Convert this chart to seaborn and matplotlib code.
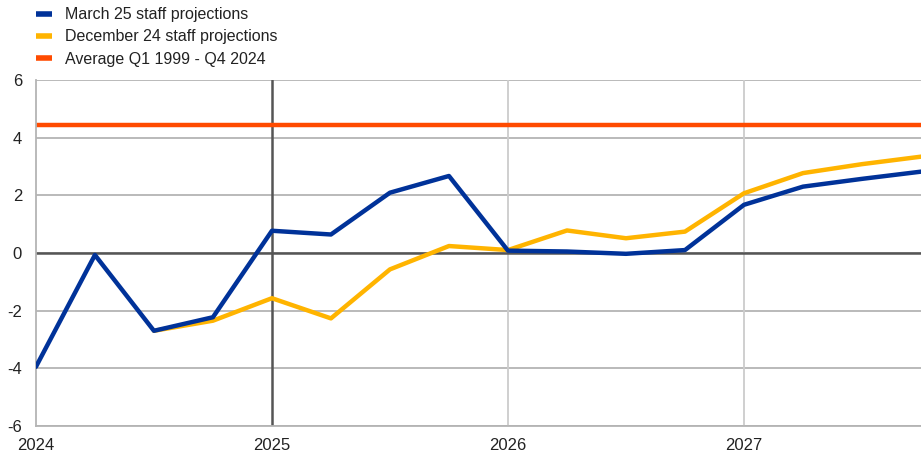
import numpy as np
import pandas as pd
import matplotlib
matplotlib.use('Agg')
import matplotlib.pyplot as plt
import seaborn as sns

# Quarterly data, 2024 Q1 - 2027 Q4
quarters = [2024.0, 2024.25, 2024.5, 2024.75,
            2025.0, 2025.25, 2025.5, 2025.75,
            2026.0, 2026.25, 2026.5, 2026.75,
            2027.0, 2027.25, 2027.5, 2027.75]
march25 = [-3.95, -0.07, -2.7, -2.23, 0.77, 0.64, 2.09, 2.67,
           0.08, 0.05, -0.03, 0.1, 1.67, 2.3, 2.57, 2.82]
december24 = [np.nan, np.nan, -2.7, -2.35, -1.57, -2.27, -0.57, 0.24,
              0.1, 0.78, 0.51, 0.74, 2.07, 2.77, 3.08, 3.34]
average_value = 4.44

series_names = ['March 25 staff projections', 'December 24 staff projections']
avg_label = 'Average Q1 1999 - Q4 2024'
year_ticks = [2024, 2025, 2026, 2027]
y_ticks = [-6, -4, -2, 0, 2, 4, 6]

df = pd.DataFrame({
    'quarter': quarters * 2,
    'value': march25 + december24,
    'series': [series_names[0]] * len(quarters) + [series_names[1]] * len(quarters),
})

sns.set_theme(style='white')
plt.rcParams['font.family'] = ['Liberation Sans', 'DejaVu Sans']

fig = plt.figure(figsize=(9.21, 4.57), dpi=100)
ax = fig.add_axes([0.039, 0.068, 0.961, 0.757])

grid_col = '#b4b4b4'
for yv in y_ticks:
    ax.axhline(yv, color=grid_col, lw=1.3, zorder=0)
ax.axhline(0, color='#555555', lw=1.8, zorder=1)
ax.axvline(2025, color='#555555', lw=1.8, zorder=1)
for xv in [2026, 2027]:
    ax.axvline(xv, color='#cccccc', lw=1.3, zorder=0)

ax.axhline(average_value, color='#ff4b00', lw=3.2, zorder=2)

palette = {series_names[0]: '#003299', series_names[1]: '#ffb400'}
# yellow first so the blue sits on top
sns.lineplot(data=df, x='quarter', y='value', hue='series', palette=palette,
             hue_order=[series_names[1], series_names[0]], lw=3.2,
             legend=False, ax=ax, zorder=3)

ax.set_xlim(2024, 2027.75)
ax.set_ylim(-6, 6)
ax.set_xticks(year_ticks)
ax.set_xticklabels([str(y) for y in year_ticks])
ax.set_yticks(y_ticks)
ax.set_yticklabels([str(y) for y in y_ticks])
ax.set_xlabel('')
ax.set_ylabel('')
ax.tick_params(axis='both', labelsize=12, colors='#222222', length=0)
ax.tick_params(axis='x', pad=9)
ax.tick_params(axis='y', pad=10)

for s in ['top', 'right']:
    ax.spines[s].set_visible(False)
ax.spines['left'].set_color(grid_col)
ax.spines['left'].set_linewidth(1.3)
ax.spines['bottom'].set_color(grid_col)
ax.spines['bottom'].set_linewidth(1.3)

handles = [
    plt.Line2D([], [], color='#003299', lw=4.0, solid_capstyle='butt'),
    plt.Line2D([], [], color='#ffb400', lw=4.0, solid_capstyle='butt'),
    plt.Line2D([], [], color='#ff4b00', lw=4.0, solid_capstyle='butt'),
]
labels = series_names + [avg_label]
fig.legend(handles, labels, loc='upper left', bbox_to_anchor=(0.032, 0.998),
           frameon=False, fontsize=11.5, handlelength=1.0, handletextpad=0.8,
           labelspacing=0.45, borderaxespad=0, labelcolor='#222222')

fig.savefig('out.png', dpi=100)
